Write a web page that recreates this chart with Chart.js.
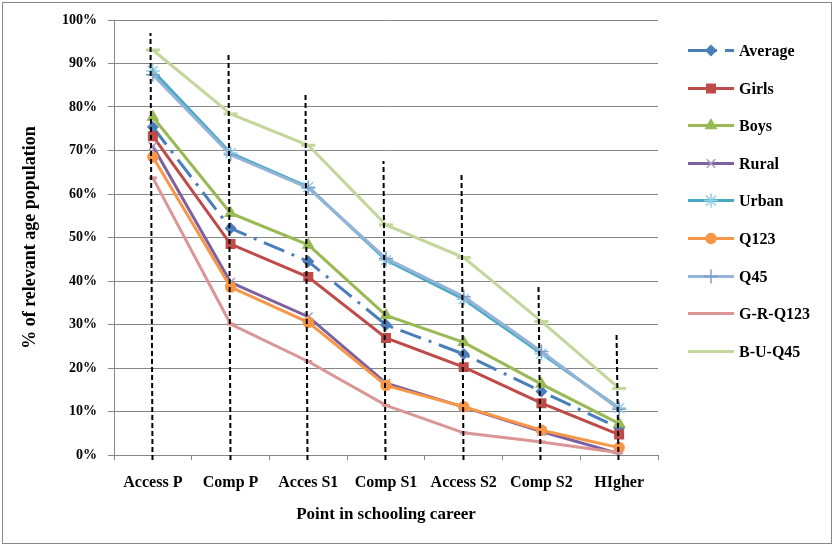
<!DOCTYPE html>
<html>
<head>
<meta charset="utf-8">
<script src="https://cdn.jsdelivr.net/npm/chart.js@4/dist/chart.umd.min.js"></script>
<style>
  html, body { margin: 0; padding: 0; background: #fff; }
  canvas { display: block; }
</style>
</head>
<body>
<canvas id="chart" width="834" height="546"></canvas>
<script>
const categories = ['Access P', 'Comp P', 'Acces S1', 'Comp S1', 'Access S2', 'Comp S2', 'HIgher'];

// % of relevant age population
const average = [75.4, 52.1, 44.5, 29.9, 23.2, 14.6, 6.2];
const girls = [73.3, 48.5, 40.9, 26.9, 20.2, 11.9, 4.7];
const boys = [77.7, 55.6, 48.3, 32.1, 25.9, 16.3, 7.2];
const rural = [71.0, 39.7, 31.8, 16.5, 11.0, 5.4, 0.3];
const urban = [88.3, 69.4, 61.6, 44.8, 35.8, 23.3, 10.8];
const q123 = [68.5, 38.6, 30.5, 16.0, 11.1, 5.7, 1.7];
const q45 = [87.4, 69.0, 61.4, 45.2, 36.4, 23.8, 10.5];
const grQ123 = [63.7, 30.1, 21.5, 11.4, 5.1, 3.0, 0.5];
const buQ45 = [93.1, 78.4, 71.2, 52.9, 45.4, 30.7, 15.3];

// tops of the black dashed guide lines, one per category
const guideTops = [97, 92.6, 83.2, 67.6, 65, 38.6, 28];

const yTicks = [0, 10, 20, 30, 40, 50, 60, 70, 80, 90, 100];

const SERIF = '"Liberation Serif", "Times New Roman", serif';
const AVG_DASH = [22, 8, 3, 8];

const seriesDefs = [
  { label: 'Average', data: average, color: '#4A7EBB', marker: 'rectRot', size: 5, fill: '#4A7EBB', dash: AVG_DASH },
  { label: 'Girls', data: girls, color: '#BE4B48', marker: 'rect', size: 6, fill: '#BE4B48' },
  { label: 'Boys', data: boys, color: '#98B954', marker: 'triangle', size: 6, fill: '#98B954' },
  { label: 'Rural', data: rural, color: '#7D60A0', marker: 'crossRot', size: 6, fill: '#A898C6', pointColor: '#A898C6' },
  { label: 'Urban', data: urban, color: '#46AAC5', marker: 'star', size: 7, fill: '#8ECFE3', pointColor: '#8ECFE3' },
  { label: 'Q123', data: q123, color: '#F79646', marker: 'circle', size: 5, fill: '#F79646' },
  { label: 'Q45', data: q45, color: '#95B3D7', marker: 'cross', size: 7, fill: '#95B3D7', pointColor: '#7F9FCB' },
  { label: 'G-R-Q123', data: grQ123, color: '#D99694', marker: 'line', size: 4, fill: '#D99694' },
  { label: 'B-U-Q45', data: buQ45, color: '#C3D69B', marker: 'line', size: 7, fill: '#C3D69B' }
];

const datasets = seriesDefs.map((s, i) => ({
  label: s.label,
  data: s.data,
  borderColor: s.color,
  backgroundColor: s.fill,
  borderWidth: 3,
  borderDash: s.dash || [],
  tension: 0,
  pointStyle: s.marker,
  pointRadius: s.size,
  pointBackgroundColor: s.fill,
  pointBorderColor: s.pointColor || s.color,
  pointBorderWidth: s.marker === 'line' ? 3 : 1.5,
  order: seriesDefs.length - i
}));

// white page, thin grey frame round the whole chart
const framePlugin = {
  id: 'frame',
  beforeDraw(chart) {
    const { ctx, width, height } = chart;
    ctx.save();
    ctx.fillStyle = '#fff';
    ctx.fillRect(0, 0, width, height);
    ctx.strokeStyle = '#868686';
    ctx.lineWidth = 1;
    ctx.strokeRect(2.5, 2.5, width - 5, height - 5);
    ctx.restore();
  }
};

// black dashed vertical lines at each schooling point, drawn over the series
const guidePlugin = {
  id: 'guides',
  afterDatasetsDraw(chart) {
    const { ctx, scales: { x, y } } = chart;
    ctx.save();
    ctx.strokeStyle = '#000';
    ctx.lineWidth = 2;
    ctx.setLineDash([5, 3]);
    guideTops.forEach((top, i) => {
      const px = Math.round(x.getPixelForValue(i)) - 1;
      ctx.beginPath();
      ctx.moveTo(px + 0.5, y.getPixelForValue(0) + 5);
      ctx.lineTo(px - 1.5, y.getPixelForValue(top));
      ctx.stroke();
    });
    ctx.restore();
  }
};

// legend on the right: line sample with marker, then bold label
const legendPlugin = {
  id: 'sideLegend',
  afterDraw(chart) {
    const { ctx } = chart;
    const x0 = 688, x1 = 734, textX = 739, y0 = 50, step = 37.6;
    ctx.save();
    ctx.font = 'bold 16px ' + SERIF;
    ctx.textBaseline = 'middle';
    ctx.fillStyle = '#000';
    chart.data.datasets.forEach((ds, i) => {
      const yy = Math.round(y0 + i * step) + 0.5;
      ctx.save();
      ctx.strokeStyle = ds.borderColor;
      ctx.lineWidth = 3;
      ctx.setLineDash(ds.borderDash.length ? [18, 8, 3, 8] : []);
      ctx.beginPath();
      ctx.moveTo(x0, yy);
      ctx.lineTo(x1, yy);
      ctx.stroke();
      ctx.restore();
      ctx.save();
      ctx.fillStyle = ds.pointBackgroundColor;
      ctx.strokeStyle = ds.pointBorderColor;
      ctx.lineWidth = ds.pointBorderWidth;
      Chart.helpers.drawPoint(ctx, { pointStyle: ds.pointStyle, radius: ds.pointRadius, borderWidth: ds.pointBorderWidth, rotation: 0 }, (x0 + x1) / 2, yy);
      ctx.restore();
      ctx.fillText(ds.label, textX, yy + 1);
    });
    ctx.restore();
  }
};

new Chart(document.getElementById('chart'), {
  type: 'line',
  data: { labels: categories, datasets },
  options: {
    responsive: false,
    animation: false,
    devicePixelRatio: 1,
    layout: { padding: { top: 20, right: 176, bottom: 0, left: 0 } },
    plugins: {
      legend: { display: false },
      tooltip: { enabled: false }
    },
    scales: {
      x: {
        type: 'category',
        offset: true,
        afterFit(scale) { scale.height = 91; },
        grid: {
          display: true,
          offset: true,
          drawOnChartArea: false,
          drawTicks: true,
          tickLength: 5,
          color: '#868686'
        },
        border: { display: true, color: '#868686', width: 1 },
        ticks: {
          color: '#000',
          padding: 13,
          maxRotation: 0,
          autoSkip: false,
          font: { family: SERIF, size: 16, weight: 'bold' }
        },
        title: {
          display: true,
          text: 'Point in schooling career',
          color: '#000',
          padding: { top: 0, bottom: 21 },
          font: { family: SERIF, size: 17, weight: 'bold' }
        }
      },
      y: {
        min: 0,
        max: 100,
        afterFit(scale) { scale.width = 114; },
        afterBuildTicks(scale) { scale.ticks = yTicks.map(v => ({ value: v })); },
        grid: {
          color: '#868686',
          lineWidth: 1,
          tickLength: 6,
          drawTicks: true
        },
        border: { display: true, color: '#868686', width: 1 },
        ticks: {
          color: '#000',
          padding: 11,
          font: { family: SERIF, size: 14, weight: 'bold' },
          callback: v => v + '%'
        },
        title: {
          display: true,
          text: '% of relevant age population',
          color: '#000',
          padding: { top: 20, bottom: 0 },
          font: { family: SERIF, size: 18, weight: 'bold' }
        }
      }
    }
  },
  plugins: [framePlugin, guidePlugin, legendPlugin]
});
</script>
</body>
</html>
